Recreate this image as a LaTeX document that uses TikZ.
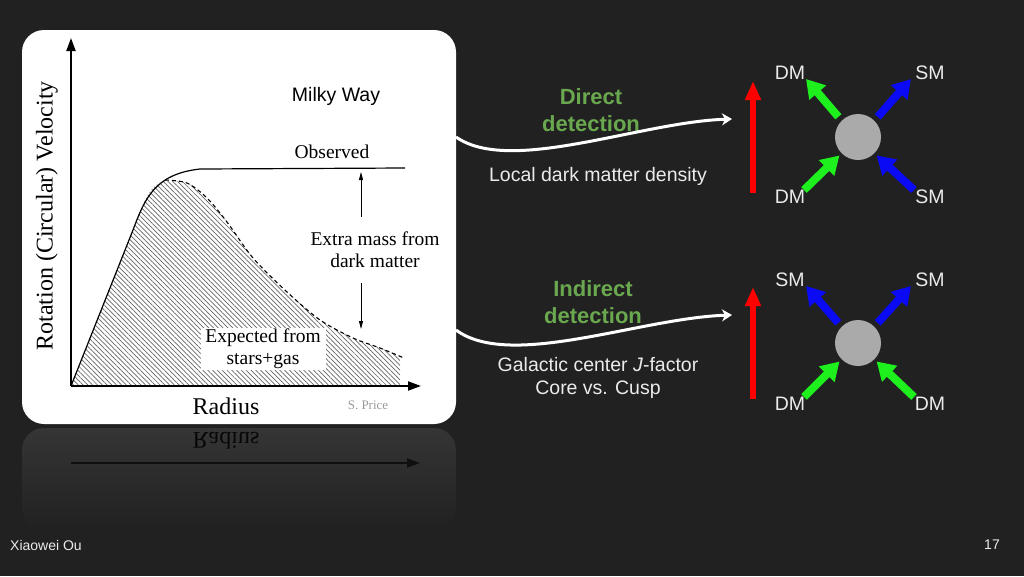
\documentclass[tikz,border=0pt]{standalone}
\usepackage{fontspec}
\setmainfont{Liberation Sans}
\newfontfamily\plotfont{Liberation Serif}
\usetikzlibrary{arrows.meta,patterns.meta,positioning}

\definecolor{bgc}{RGB}{33,33,33}
\definecolor{hdgreen}{RGB}{106,168,79}
\definecolor{dmgreen}{RGB}{30,240,30}
\definecolor{smblue}{RGB}{10,10,245}
\definecolor{blobgray}{RGB}{170,170,170}
\definecolor{txt}{RGB}{235,235,235}

\tikzset{
  fat/.style={line width=8pt,-{Triangle[length=18pt,width=21pt]}},
  redarr/.style={red,line width=6pt,-{Triangle[length=19pt,width=15pt]}},
  lbl/.style={text=txt,font=\fontsize{19.5}{22}\selectfont},
  head/.style={text=hdgreen,font=\bfseries\fontsize{22}{27}\selectfont,align=center},
  note/.style={text=txt,font=\fontsize{19.5}{23}\selectfont,align=center},
  route/.style={white,line width=3pt,-{Stealth[length=10pt,width=12pt,inset=3pt]}},
  blob/.style={circle,fill=blobgray,minimum size=46pt,inner sep=0pt},
  serif/.style={font=\plotfont\fontsize{19.5}{22}\selectfont,inner sep=1pt},
  axis/.style={line width=2pt,-{Triangle[length=13pt,width=9pt]}},
  thinarr/.style={line width=0.8pt,-{Triangle[length=8pt,width=4pt]}}
}

\begin{document}
\begin{tikzpicture}[x=1pt,y=-1pt]

	\fill[bgc] (0,0) rectangle (1024,576);
	\useasboundingbox (0,0) rectangle (1024,576);

	% reflection under the plot
	\shade[top color=white!9!bgc,bottom color=bgc,rounded corners=22pt] (22,428) rectangle (456,530);
	\node[font=\plotfont\fontsize{24}{26}\selectfont,text=black!80!bgc,yscale=-1] (rrad) at (226,441) {Radius};
	\coordinate (rorg) at (71,463);
	\coordinate (rtip) at (420,463);
	\draw[black!55!bgc,line width=1.5pt,-{Triangle[length=13pt,width=9pt]}] (rorg) -- (rtip);

	% rotation curve panel
	\fill[white,rounded corners=22pt] (22,30) rectangle (456,424);

	\fill[pattern={Lines[angle=-45,distance=3.4pt,line width=0.7pt]},pattern color=black!60] (71,386) -- (133,230)
		.. controls (145,198) and (150,183) .. (167,181)
		-- plot[smooth] coordinates {(167,181) (187,183) (207,198) (227,222) (253,258) (287,292) (320,320) (353,338) (380,348) (400,356)}
		-- (400,386) -- cycle;
	\draw[line width=1.2pt] (71,386) -- (133,230) .. controls (145,198) and (155,174) .. (200,169) -- (405,168);
	\draw[line width=1.1pt,dash pattern=on 4pt off 3pt] plot[smooth] coordinates {(165,180) (187,183) (207,198) (227,222) (253,258) (287,292) (320,320) (353,338) (380,348) (404,358)};

	\coordinate (org) at (71,386);
	\coordinate (ytip) at (71,38);
	\coordinate (xtip) at (421,386);
	\draw[axis] (org) -- (ytip);
	\draw[axis] (org) -- (xtip);

	\node[serif] (obslbl) at (332,152) {Observed};
	\node[serif,align=center] (extra) at (375,250) {Extra mass from\\dark matter};
	\coordinate (dmtop) at (361,217);
	\coordinate (dmbot) at (361,283);
	\coordinate (obs) at (361,172);
	\coordinate (exp) at (361,329);
	\draw[thinarr] (dmtop) -- (obs);
	\draw[thinarr] (dmbot) -- (exp);

	\node[serif,fill=white,align=center,minimum width=125pt,minimum height=42pt] (expected) at (263,349) {Expected from\\stars+gas};
	\node[font=\plotfont\fontsize{24}{26}\selectfont] (radius) at (226,406) {Radius};
	\node[font=\plotfont\fontsize{13}{15}\selectfont,text=black!40] (credit) at (368,405) {S. Price};
	\node[font=\plotfont\fontsize{24}{26}\selectfont,rotate=90] (vel) at (47,216) {Rotation (Circular) Velocity};
	\node[font=\fontsize{19.5}{22}\selectfont] (mw) at (336,96) {Milky Way};

	% direct detection
	\node[head] (direct) at (591,110) {Direct\\detection};
	\node[note] (local) at (598,176) {Local dark matter density};
	\coordinate (src1) at (456,137);
	\coordinate (dst1) at (732,119);
	\draw[route] (src1) .. controls (510,175) and (640,122) .. (dst1);

	\coordinate (red1a) at (753,193);
	\coordinate (red1b) at (753,81);
	\draw[redarr] (red1a) -- (red1b);

	\node[blob] (blob1) at (858,137) {};
	\node[lbl] (dm1) at (790,73) {DM};
	\node[lbl] (sm1) at (930,73) {SM};
	\node[lbl] (dm2) at (790,197) {DM};
	\node[lbl] (sm2) at (930,197) {SM};
	\coordinate (a1) at (806,79);
	\coordinate (a2) at (911,79);
	\coordinate (a3) at (804,190);
	\coordinate (a4) at (914,190);
	\draw[fat,dmgreen,shorten <=5pt] (blob1.135) -- (a1);
	\draw[fat,smblue,shorten <=5pt] (blob1.45) -- (a2);
	\draw[fat,dmgreen,shorten >=3pt] (a3) -- (blob1.225);
	\draw[fat,smblue,shorten >=3pt] (a4) -- (blob1.315);

	% indirect detection
	\node[head] (indirect) at (593,302) {Indirect\\detection};
	\node[note] (jfac) at (598,378) {Galactic center \textit{J}-factor\\Core vs. Cusp};
	\coordinate (src2) at (456,330);
	\coordinate (dst2) at (732,315);
	\draw[route] (src2) .. controls (510,370) and (640,318) .. (dst2);

	\coordinate (red2a) at (753,399);
	\coordinate (red2b) at (753,287);
	\draw[redarr] (red2a) -- (red2b);

	\node[blob] (blob2) at (858,343) {};
	\node[lbl] (sm3) at (790,280) {SM};
	\node[lbl] (sm4) at (930,280) {SM};
	\node[lbl] (dm3) at (790,404) {DM};
	\node[lbl] (dm4) at (930,404) {DM};
	\coordinate (b1) at (806,286);
	\coordinate (b2) at (911,286);
	\coordinate (b3) at (804,397);
	\coordinate (b4) at (914,397);
	\draw[fat,smblue,shorten <=5pt] (blob2.135) -- (b1);
	\draw[fat,smblue,shorten <=5pt] (blob2.45) -- (b2);
	\draw[fat,dmgreen,shorten >=3pt] (b3) -- (blob2.225);
	\draw[fat,dmgreen,shorten >=3pt] (b4) -- (blob2.315);

	% footer
	\node[text=txt,font=\fontsize{14}{16}\selectfont] (author) at (46,545) {Xiaowei Ou};
	\node[text=txt,font=\fontsize{14}{16}\selectfont] (page) at (992,545) {17};

\end{tikzpicture}
\end{document}
